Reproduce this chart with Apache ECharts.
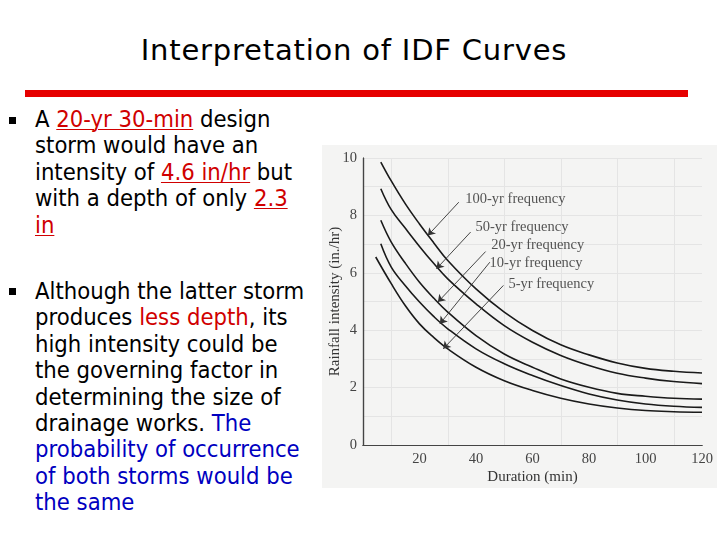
<!DOCTYPE html>
<html>
<head>
<meta charset="utf-8">
<script src="https://cdn.jsdelivr.net/npm/echarts@6/dist/echarts.min.js"></script>
<style>
html,body{margin:0;padding:0;background:#fff;width:720px;height:540px;overflow:hidden;}
#title{position:absolute;left:0;width:708px;top:33px;text-align:center;font-family:"DejaVu Sans",sans-serif;font-size:29px;letter-spacing:0.8px;color:#000;}
#bar{position:absolute;left:25px;top:90px;width:663px;height:7px;background:#e60000;}
.bul{position:absolute;left:35px;font-family:"DejaVu Sans Condensed","DejaVu Sans",sans-serif;font-size:23.6px;line-height:26.4px;color:#000;white-space:nowrap;}
.sq{position:absolute;left:9px;width:7px;height:7px;background:#000;}
.r{color:#d00000;}
.u{text-decoration:underline;text-decoration-thickness:1px;text-underline-offset:2px;}
.b{color:#0000c0;}
#chart{position:absolute;left:322px;top:145px;width:395px;height:343px;background:#f4f4f3;}
</style>
</head>
<body>
<div id="title">Interpretation of IDF Curves</div>
<div id="bar"></div>
<div class="sq" style="top:117px"></div>
<div class="bul" style="top:106px">A <span class="r u">20-yr 30-min</span> design<br>storm would have an<br>intensity of <span class="r u">4.6 in/hr</span> but<br>with a depth of only <span class="r u">2.3</span><br><span class="r u">in</span></div>
<div class="sq" style="top:288px"></div>
<div class="bul" style="top:278px">Although the latter storm<br>produces <span class="r">less depth</span>, its<br>high intensity could be<br>the governing factor in<br>determining the size of<br>drainage works. <span class="b">The</span><br><span class="b">probability of occurrence</span><br><span class="b">of both storms would be</span><br><span class="b">the same</span></div>
<div id="chart"></div>
<script>
// Durations (min) and rainfall intensities (in/hr)
const durA = [6.3, 10, 15, 20, 25, 30, 40, 50, 60, 70, 80, 90, 100, 110, 120];
const dur5 = [4.5, 10, 15, 20, 25, 30, 40, 50, 60, 70, 80, 90, 100, 110, 120];
const yr100 = [9.86, 9.2, 8.4, 7.7, 7.05, 6.43, 5.44, 4.63, 3.99, 3.49, 3.14, 2.86, 2.67, 2.57, 2.51];
const yr50  = [8.93, 8.2, 7.55, 6.92, 6.33, 5.79, 4.92, 4.16, 3.58, 3.12, 2.77, 2.50, 2.33, 2.21, 2.14];
const yr20  = [7.83, 7.07, 6.33, 5.67, 5.12, 4.63, 3.81, 3.17, 2.71, 2.30, 2.01, 1.80, 1.70, 1.63, 1.60];
const yr10  = [7.01, 6.2, 5.55, 4.98, 4.48, 4.05, 3.35, 2.83, 2.42, 2.07, 1.78, 1.57, 1.43, 1.35, 1.31];
const yr5   = [6.55, 5.62, 4.85, 4.22, 3.75, 3.35, 2.71, 2.24, 1.90, 1.63, 1.43, 1.29, 1.20, 1.16, 1.14];
const curveNames = ['100-yr frequency', '50-yr frequency', '20-yr frequency', '10-yr frequency', '5-yr frequency'];
// label anchor (duration, intensity) and arrow tip (duration, intensity)
const labelAt = [[36.2, 8.56], [39.8, 7.58], [45.4, 6.95], [44.8, 6.34], [51.5, 5.6]];
const arrowFrom = [[33.9, 8.46], [38.1, 7.42], [43.4, 6.74], [44.9, 6.37], [49.7, 5.56]];
const arrowTo = [[22.96, 7.30], [26.0, 6.14], [26.5, 4.98], [27.2, 4.22], [28.4, 3.35]];
const xTicks = [20, 40, 60, 80, 100, 120];

const chart = echarts.init(document.getElementById('chart'), null, {renderer: 'canvas'});
const serif = '"Liberation Serif","DejaVu Serif",serif';
const curves = [yr100, yr50, yr20, yr10, yr5];
const series = curves.map((vals, i) => ({
  type: 'line',
  name: curveNames[i],
  smooth: 0.4,
  showSymbol: false,
  data: vals.map((v, k) => [(i === 4 ? dur5 : durA)[k], v]),
  lineStyle: {color: '#1a1a1a', width: 1.6},
  silent: true
}));
series.push({
  type: 'scatter',
  symbolSize: 0,
  silent: true,
  data: labelAt.map((p, i) => ({value: p, name: curveNames[i]})),
  label: {show: true, position: 'right', distance: 0, formatter: '{b}', fontFamily: serif, fontSize: 14.5, color: '#2a2a2a'},
  markLine: {
    silent: true,
    symbol: ['none', 'arrow'],
    symbolSize: 7,
    lineStyle: {color: '#333', width: 0.9, type: 'solid'},
    label: {show: false},
    data: arrowFrom.map((p, i) => [{coord: p}, {coord: arrowTo[i]}])
  }
});
chart.setOption({
  animation: false,
  grid: {left: 41, right: 15, top: 13, bottom: 43, outerBoundsMode: 'none', containLabel: false},
  xAxis: [{
    type: 'value', min: 0, max: 120, interval: 20,
    name: 'Duration (min)', nameLocation: 'middle', nameGap: 25, nameMoveOverlap: false,
    nameTextStyle: {fontFamily: serif, fontSize: 15, color: '#333'},
    axisLine: {onZero: false, lineStyle: {color: '#444', width: 1.2}},
    axisTick: {show: false},
    axisLabel: {fontFamily: serif, fontSize: 14.5, color: '#444', margin: 7, showMinLabel: false,
      formatter: v => xTicks.indexOf(v) >= 0 ? String(v) : ''},
    splitLine: {show: false},
    minorTick: {show: false, splitNumber: 2},
    minorSplitLine: {show: true, lineStyle: {color: '#e4e4e4', width: 1}}
  }, {type: 'value', position: 'top', min: 0, max: 120, axisLine: {show: true, lineStyle: {color: '#444', width: 1.2}}, axisLabel: {show: false}, axisTick: {show: false}, splitLine: {show: false}}],
  yAxis: [{
    type: 'value', min: 0, max: 10, interval: 2,
    name: 'Rainfall intensity (in./hr)', nameLocation: 'middle', nameGap: 20, nameMoveOverlap: false,
    nameTextStyle: {fontFamily: serif, fontSize: 15, color: '#333'},
    axisLine: {show: true, lineStyle: {color: '#444', width: 1.2}},
    axisTick: {show: false},
    axisLabel: {fontFamily: serif, fontSize: 14.5, color: '#444', margin: 6},
    splitLine: {show: true, lineStyle: {color: '#e4e4e4'}},
    minorTick: {show: false, splitNumber: 2},
    minorSplitLine: {show: true, lineStyle: {color: '#e4e4e4'}}
  }, {type: 'value', position: 'right', min: 0, max: 10, axisLine: {show: true, lineStyle: {color: '#444', width: 1.2}}, axisLabel: {show: false}, axisTick: {show: false}, splitLine: {show: false}}],
  series: series
});
</script>
</body>
</html>
